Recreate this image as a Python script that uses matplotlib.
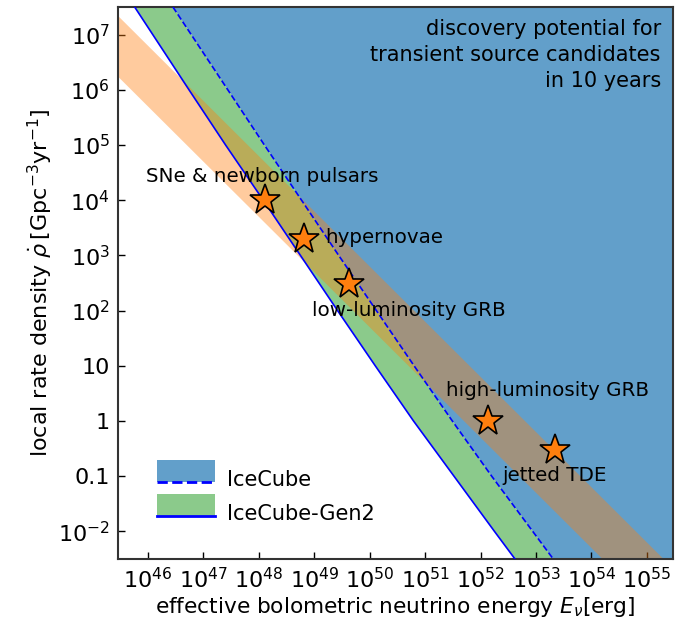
import numpy as np
import matplotlib
matplotlib.use('Agg')
import matplotlib.pyplot as plt
from matplotlib.patches import Rectangle
from matplotlib.lines import Line2D


# discovery potential curves, log10 values
log_rho = [7.5, 6, 5, 4, 3, 2, 1, 0, -1, -2, -2.5]
log_E_gen2 = [45.76, 46.74, 47.40, 48.08, 48.75, 49.42, 50.10, 50.79, 51.52, 52.25, 52.62]
log_E_icecube = [46.45, 47.44, 48.10, 48.77, 49.44, 50.12, 50.80, 51.49, 52.20, 52.94, 53.31]

# source population band, E * rho in erg Gpc^-3 yr^-1
band_lo = 5.0e51
band_hi = 6.3e52

# source candidates
src_names = ['SNe & newborn pulsars', 'hypernovae', 'low-luminosity GRB',
             'high-luminosity GRB', 'jetted TDE']
src_E = [1.3e48, 6.6e48, 4.3e49, 1.35e52, 2.2e53]
src_rho = [1e4, 2e3, 3e2, 1.0, 0.3]
# label anchors (left edge, vertical centre)
lab_E = [10**45.96, 10**49.2, 10**48.96, 10**51.38, 10**52.39]
lab_rho = [10**4.43, 10**3.32, 10**2.0, 10**0.55, 10**-0.99]

xmin, xmax = 10**45.46, 10**55.47
ymin, ymax = 10**-2.5, 10**7.5

plt.rcParams['font.family'] = 'DejaVu Sans'
plt.rcParams['mathtext.fontset'] = 'dejavusans'

fig = plt.figure(figsize=(6.87, 6.2), dpi=100)
ax = fig.add_axes([0.1718, 0.0984, 0.8078, 0.8903])

rho = 10**np.array(log_rho)
E_gen2 = 10**np.array(log_E_gen2)
E_ic = 10**np.array(log_E_icecube)

ax.fill_betweenx(rho, E_ic, 1e57, color='C0', alpha=0.7, lw=0, zorder=1)
ax.fill_betweenx(rho, E_gen2, E_ic, color='C2', alpha=0.55, lw=0, zorder=1)

Eb = np.array([1e45, 1e56])
ax.fill_between(Eb, band_lo / Eb, band_hi / Eb, color='C1', alpha=0.4, lw=0, zorder=2)

ax.plot(E_ic, rho, color='blue', ls='--', lw=1.2, zorder=3)
ax.plot(E_gen2, rho, color='blue', ls='-', lw=1.2, zorder=3)

ax.plot(src_E, src_rho, ls='none', marker='*', ms=23, mfc='C1', mec='k', mew=1.2, zorder=5)
for i in range(len(src_names)):
    ax.text(lab_E[i], lab_rho[i], src_names[i], fontsize=14.3, ha='left', va='center', zorder=6)

ax.text(0.978, 0.979, 'discovery potential for\ntransient source candidates\nin 10 years',
        transform=ax.transAxes, ha='right', va='top', fontsize=15, linespacing=1.38, zorder=6)

ax.set_xscale('log')
ax.set_yscale('log')
ax.set_xlim(xmin, xmax)
ax.set_ylim(ymin, ymax)

xt = [10.0**k for k in range(46, 56)]
ax.set_xticks(xt)
ax.set_xticklabels([r'$10^{%d}$' % k for k in range(46, 56)])
yt = [1e-2, 0.1, 1, 10, 1e2, 1e3, 1e4, 1e5, 1e6, 1e7]
ytl = [r'$10^{-2}$', '0.1', '1', '10', r'$10^{2}$', r'$10^{3}$', r'$10^{4}$',
       r'$10^{5}$', r'$10^{6}$', r'$10^{7}$']
ax.set_yticks(yt)
ax.set_yticklabels(ytl)
ax.minorticks_off()
ax.tick_params(direction='in', length=5, width=1, labelsize=16, pad=6)

for s in ax.spines.values():
    s.set_color('#333333')
    s.set_linewidth(1.5)

ax.set_xlabel(r'effective bolometric neutrino energy $E_\nu [\mathrm{erg}]$', fontsize=15.6, labelpad=2)
ax.set_ylabel(r'local rate density $\dot{\rho}\,[\mathrm{Gpc}^{-3}\mathrm{yr}^{-1}]$', fontsize=16, labelpad=2)


# legend handle: filled box with the line along its bottom edge
class BoxLineHandler:
    def __init__(self, color, alpha, ls):
        self.color = color
        self.alpha = alpha
        self.ls = ls

    def legend_artist(self, legend, orig_handle, fontsize, handlebox):
        x0, y0 = handlebox.xdescent, handlebox.ydescent
        w, h = handlebox.width, handlebox.height
        r = Rectangle((x0, y0), w, h, facecolor=self.color, alpha=self.alpha, lw=0,
                      transform=handlebox.get_transform())
        ln = Line2D([x0, x0 + w], [y0, y0], color='blue', ls=self.ls, lw=2,
                    transform=handlebox.get_transform())
        handlebox.add_artist(r)
        handlebox.add_artist(ln)
        return r


h_ic = Rectangle((0, 0), 1, 1)
h_g2 = Rectangle((0, 0), 1, 1)
ax.legend([h_ic, h_g2], ['IceCube', 'IceCube-Gen2'], loc='lower left',
          bbox_to_anchor=(0.070, 0.064), borderaxespad=0, borderpad=0,
          frameon=False, fontsize=15, handlelength=2.8, handleheight=1.25,
          labelspacing=0.55, handletextpad=0.55,
          handler_map={h_ic: BoxLineHandler('C0', 0.7, '--'),
                       h_g2: BoxLineHandler('C2', 0.55, '-')})

fig.savefig('out.png', dpi=100)
